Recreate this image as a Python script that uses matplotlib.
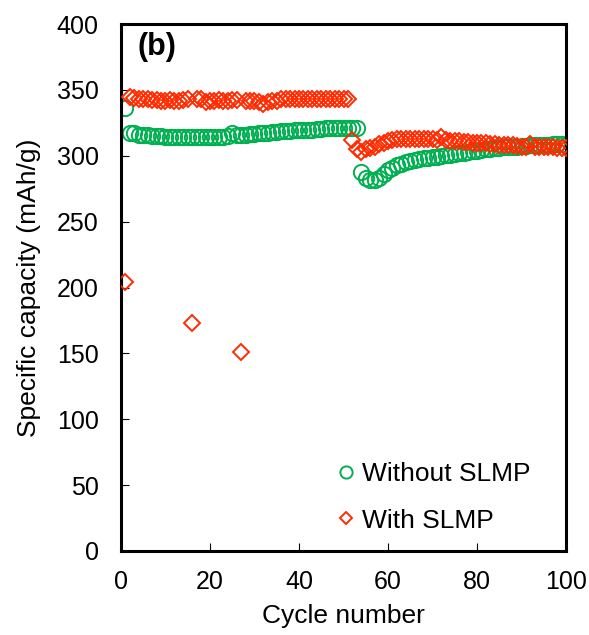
import numpy as np
import matplotlib
matplotlib.use('Agg')
import matplotlib.pyplot as plt

plt.rcParams['font.family'] = ['Liberation Sans', 'DejaVu Sans']

cycles = list(range(1, 101))

# capacity without SLMP (mAh/g)
without_slmp = [336,
                317, 317, 316, 316, 315.5, 315, 315, 315, 314.5, 314,
                314, 314, 314, 314, 314, 314, 314, 314, 314, 314,
                314.5, 314.5, 315, 317, 315.5, 316, 316, 316.5, 316.5, 317,
                317, 317.5, 318, 318, 318.5, 319, 319, 319.5, 319.5, 320,
                320, 320, 320.5, 320.5, 321, 321, 321, 321, 321, 321,
                321, 321,
                288, 283, 282, 282, 283, 286, 289, 291, 293, 294,
                295, 296, 297, 297.5, 298, 298.5, 299, 299.5, 300, 300.5,
                301, 301.5, 302, 302.5, 303, 303.5, 304, 304.5, 305, 305.5,
                306, 306, 306.5, 306.5, 307, 307, 307.5, 307.5, 308, 308,
                308.5, 308.5, 308.5, 309, 309, 309, 308]

# capacity with SLMP (mAh/g)
with_slmp = [204,
             345, 344, 343, 343, 343, 342.5, 342.5, 342, 342, 342.5,
             342, 342, 342.5, 343, 173, 343, 343, 341, 342, 342,
             342.5, 342, 342, 342.5, 342.5, 151, 342, 342, 342, 341,
             339, 341, 342, 342, 343, 343, 343, 343.5, 343.5, 343.5,
             343.5, 343.5, 343.5, 343.5, 343.5, 343.5, 343.5, 343.5, 343.5, 343.5,
             312, 305, 303, 305, 306, 307, 309, 310, 311, 312,
             312.5, 313, 313, 313, 313, 313, 313, 312.5, 312.5, 312,
             314, 312, 311.5, 311, 311, 310.5, 310.5, 310, 310, 309.5,
             309.5, 309, 309, 308.5, 308.5, 308, 308, 307.5, 307, 307,
             309, 307, 307, 306.5, 306.5, 306.5, 306, 306, 306]

fig = plt.figure(figsize=(5.89, 6.35), dpi=100)
ax = fig.add_axes([0.2054, 0.1323, 0.7556, 0.8297])

ax.plot(cycles, without_slmp, 'o', mfc='none', mec='#00B050', ms=11, mew=1.4,
        label='Without SLMP', zorder=2)
ax.plot(cycles, with_slmp, 'D', mfc='none', mec='#FF2A00', ms=8, mew=1.4,
        label='With SLMP', zorder=3)

ax.set_xlim(0, 100)
ax.set_ylim(0, 400)
ax.set_xticks(range(0, 101, 20))
ax.set_yticks(range(0, 401, 50))
ax.tick_params(direction='in', length=6, width=0.8, labelsize=18)
ax.tick_params(axis='x', pad=14)
ax.tick_params(axis='y', pad=16)
for s in ax.spines.values():
    s.set_linewidth(2.2)

ax.set_xlabel('Cycle number', fontsize=19, labelpad=7)
ax.set_ylabel('Specific capacity (mAh/g)', fontsize=19, labelpad=11)
ax.text(0.038, 0.985, '(b)', transform=ax.transAxes, fontsize=22,
        fontweight='bold', va='top')

ax.legend(loc='lower right', frameon=False, fontsize=19, handletextpad=0.0,
          handlelength=1.2, labelspacing=0.85, markerscale=0.8,
          borderaxespad=0.3, bbox_to_anchor=(0.962, 0.0))

plt.savefig('out.png', dpi=100)
